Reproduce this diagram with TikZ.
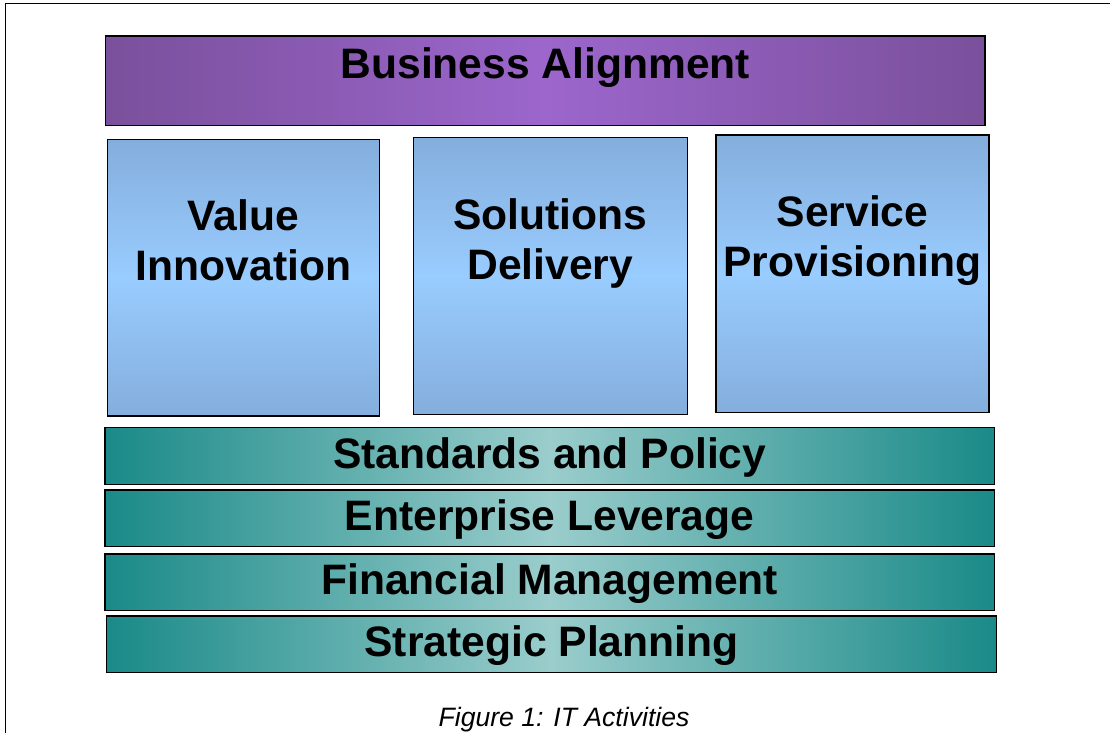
\documentclass[tikz,border=0pt]{standalone}
\usepackage{fontspec}
\setmainfont{Liberation Sans}
\definecolor{purpleedge}{HTML}{7A509C}
\definecolor{purplemid}{HTML}{9C66CC}
\definecolor{blueedge}{HTML}{84AEDC}
\definecolor{bluemid}{HTML}{99CCFF}
\definecolor{tealedge}{HTML}{1A8A88}
\definecolor{tealmid}{HTML}{9ACDCC}
\begin{document}
\begin{tikzpicture}[x=1pt,y=-1pt,
  boxline/.style={draw=black,line width=1.5pt,inner sep=0pt,outer sep=0pt},
  purplebar/.style={boxline,left color=purpleedge,right color=purpleedge,middle color=purplemid},
  bluebox/.style={boxline,top color=blueedge,bottom color=blueedge,middle color=bluemid},
  tealbar/.style={boxline,left color=tealedge,right color=tealedge,middle color=tealmid},
  lbl/.style={font=\bfseries\fontsize{42.6}{50}\selectfont,align=center,inner sep=0pt,anchor=base},
  captionlbl/.style={font=\itshape\fontsize{26.6}{30}\selectfont,inner sep=0pt,anchor=base}]
\useasboundingbox[fill=white] (0,0) rectangle (1110,732);
% frame
\draw[line width=1.2pt] (5.5,740) -- (5.5,3.5) -- (1115,3.5);
% top bar
\node[purplebar,minimum width=879.3pt,minimum height=89.7pt] (ba) at (545.35,80.85) {};
\node[lbl] (batxt) at (545.3,78) {Business Alignment};
% columns
\node[bluebox,minimum width=271.6pt,minimum height=276.7pt] (vi) at (243.5,277.65) {};
\node[lbl] (vitxt) at (243.5,280) {Value\\Innovation};
\node[bluebox,minimum width=274pt,minimum height=277pt] (sd) at (550.3,275.8) {};
\node[lbl] (sdtxt) at (550.3,279) {Solutions\\Delivery};
\node[bluebox,minimum width=273pt,minimum height=277.3pt] (sp) at (852.5,273.65) {};
\node[lbl] (sptxt) at (852.5,276.2) {Service\\Provisioning};
% bottom bars
\node[tealbar,minimum width=889.3pt,minimum height=56.6pt] (t1) at (549.65,456) {};
\node[lbl] (t1txt) at (549.65,468) {Standards and Policy};
\node[tealbar,minimum width=889.3pt,minimum height=56.7pt] (t2) at (549.65,518.35) {};
\node[lbl] (t2txt) at (549.65,530.3) {Enterprise Leverage};
\node[tealbar,minimum width=889.3pt,minimum height=56.7pt] (t3) at (549.65,582.35) {};
\node[lbl] (t3txt) at (549.65,594.3) {Financial Management};
\node[tealbar,minimum width=889.6pt,minimum height=56.7pt] (t4) at (551.5,644.35) {};
\node[lbl] (t4txt) at (551.5,656.5) {Strategic Planning};
% caption
\node[captionlbl] (cap) at (564,726) {Figure 1: IT Activities};
\end{tikzpicture}
\end{document}
